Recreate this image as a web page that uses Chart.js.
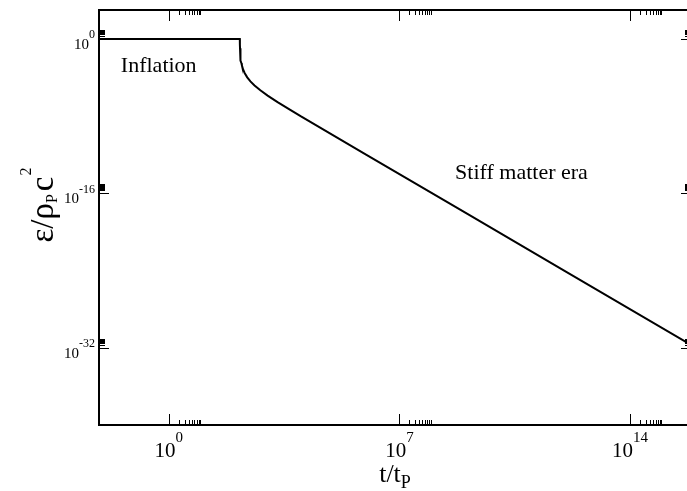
<!DOCTYPE html>
<html>
<head>
<meta charset="utf-8">
<script src="https://cdn.jsdelivr.net/npm/chart.js@4/dist/chart.umd.min.js"></script>
<style>
  html, body { margin: 0; padding: 0; background: #fff; overflow: hidden; }
  #wrap { width: 693px; height: 491px; }
</style>
</head>
<body>
<div id="wrap"><canvas id="densityChart" width="693" height="491"></canvas></div>
<script>
// energy density of the early universe vs cosmic time (Planck units)
const timeValues = [7.6e-3, 1.43e2, 1.435e2, 1.44e2, 1.45e2, 1.46e2, 1.48e2, 1.5e2, 1.55e2, 1.6e2, 1.65e2,
    1.8e2, 2.0e2, 2.4e2, 3.0e2, 4.0e2, 6.0e2, 1.0e3, 2.0e3, 5.0e3, 1.0e4, 1.0e6, 1.0e9, 1.0e12, 7.1e15];
const densityValues = [1, 1, 4.4e-1, 2.5e-1, 1.1e-1, 6.3e-2, 2.8e-2, 1.6e-2, 5.9e-3, 3.0e-3, 1.9e-3,
    6.9e-4, 3.0e-4, 1.05e-4, 4.0e-5, 1.5e-5, 4.8e-6, 1.35e-6, 2.9e-7, 4.3e-8, 1.0e-8, 1.0e-12, 1.0e-18, 1.0e-24, 2.0e-32];

const xMajorTicks = [1e0, 1e7, 1e14];
const xTickExponents = ["0", "7", "14"];
const yMajorTicks = [1e0, 1e-16, 1e-32];
const yTickExponents = ["0", "-16", "-32"];
const minorFactors = [2, 3, 4, 5, 6, 7, 8, 9];

const points = timeValues.map((t, i) => ({ x: t, y: densityValues[i] }));

const SERIF = "'Liberation Serif', 'DejaVu Serif', serif";

function drawPower(ctx, x, baseY, expY, exp, mainSize, supSize, align) {
    ctx.font = mainSize + "px " + SERIF;
    const w1 = ctx.measureText("10").width;
    ctx.font = supSize + "px " + SERIF;
    const w2 = ctx.measureText(exp).width;
    let left = x;
    if (align === "center") left = x - (w1 + w2) / 2;
    if (align === "right") left = x - (w1 + w2);
    ctx.textAlign = "left";
    ctx.textBaseline = "alphabetic";
    ctx.font = mainSize + "px " + SERIF;
    ctx.fillText("10", left, baseY);
    ctx.font = supSize + "px " + SERIF;
    ctx.fillText(exp, left + w1, expY);
}

const framePlugin = {
    id: "frameTicks",
    afterDatasetsDraw(chart) {
        const ctx = chart.ctx;
        const a = chart.chartArea;
        const xs = chart.scales.x, ys = chart.scales.y;
        ctx.save();
        ctx.fillStyle = "#000";
        ctx.strokeStyle = "#000";

        // inward ticks on all four sides
        ctx.lineWidth = 1;
        ctx.beginPath();
        xMajorTicks.forEach(v => {
            const px = Math.round(xs.getPixelForValue(v)) + 0.5;
            ctx.moveTo(px, a.bottom); ctx.lineTo(px, a.bottom - 11);
            ctx.moveTo(px, a.top); ctx.lineTo(px, a.top + 11);
            minorFactors.forEach(k => {
                const mx = Math.round(xs.getPixelForValue(v * k)) + 0.5;
                ctx.moveTo(mx, a.bottom); ctx.lineTo(mx, a.bottom - 5);
                ctx.moveTo(mx, a.top); ctx.lineTo(mx, a.top + 5);
            });
        });
        yMajorTicks.forEach(v => {
            const py = Math.round(ys.getPixelForValue(v)) + 0.5;
            ctx.moveTo(a.left, py); ctx.lineTo(a.left + 10, py);
            ctx.moveTo(a.right, py); ctx.lineTo(a.right - 10, py);
            minorFactors.forEach(k => {
                const my = Math.round(ys.getPixelForValue(v * k)) + 0.5;
                ctx.moveTo(a.left, my); ctx.lineTo(a.left + 6, my);
                ctx.moveTo(a.right, my); ctx.lineTo(a.right - 6, my);
            });
        });
        ctx.stroke();

        // frame
        ctx.lineWidth = 2;
        ctx.strokeRect(a.left, a.top, a.right - a.left, a.bottom - a.top);

        // tick labels
        xMajorTicks.forEach((v, i) => {
            const px = xs.getPixelForValue(v);
            drawPower(ctx, px, 457, 442, xTickExponents[i], 21, 15, "center");
        });
        yMajorTicks.forEach((v, i) => {
            const py = ys.getPixelForValue(v);
            drawPower(ctx, 95, py + 10, py - 0.5, yTickExponents[i], 15, 12, "right");
        });

        // axis titles
        ctx.textAlign = "left";
        ctx.font = "26px " + SERIF;
        const tw = ctx.measureText("t/t").width;
        ctx.font = "18px " + SERIF;
        const pw = ctx.measureText("P").width;
        let tx = (a.left + a.right) / 2 - (tw + pw) / 2;
        ctx.font = "26px " + SERIF;
        ctx.fillText("t/t", tx, 482);
        ctx.font = "18px " + SERIF;
        ctx.fillText("P", tx + tw, 488);

        ctx.save();
        ctx.translate(53, 205);
        ctx.rotate(-Math.PI / 2);
        const big = "33px " + SERIF, small = "16px " + SERIF;
        ctx.font = big;
        const w1 = ctx.measureText("\u03b5/\u03c1").width;
        const w3 = ctx.measureText("c").width;
        ctx.font = small;
        const w2 = ctx.measureText("P").width;
        const w4 = ctx.measureText("2").width;
        let sx = -(w1 + w2 + w3 + w4 + 4) / 2;
        ctx.font = big;
        ctx.fillText("\u03b5/\u03c1", sx, 0);
        ctx.font = small;
        ctx.fillText("P", sx + w1, 4);
        ctx.font = big;
        ctx.fillText("c", sx + w1 + w2 + 3, 0);
        ctx.font = small;
        ctx.fillText("2", sx + w1 + w2 + w3 + 4, -22);
        ctx.restore();

        // era labels, anchored in data coordinates
        ctx.font = "22px " + SERIF;
        ctx.fillText("Inflation", xs.getPixelForValue(3.5e-2), ys.getPixelForValue(3.8e-4));
        ctx.fillText("Stiff matter era", xs.getPixelForValue(4.9e8), ys.getPixelForValue(3.2e-15));

        ctx.restore();
    }
};

new Chart(document.getElementById("densityChart"), {
    type: "line",
    data: {
        datasets: [{
            data: points,
            borderColor: "#000",
            borderWidth: 2,
            pointRadius: 0,
            tension: 0,
            fill: false
        }]
    },
    options: {
        responsive: false,
        animation: false,
        layout: { padding: { left: 99, top: 10, right: 2, bottom: 66 } },
        plugins: { legend: { display: false }, tooltip: { enabled: false } },
        scales: {
            x: { type: "logarithmic", min: 7.6e-3, max: 7.1e15, display: false },
            y: { type: "logarithmic", min: 1e-40, max: 1e3, display: false }
        }
    },
    plugins: [framePlugin]
});
</script>
</body>
</html>
